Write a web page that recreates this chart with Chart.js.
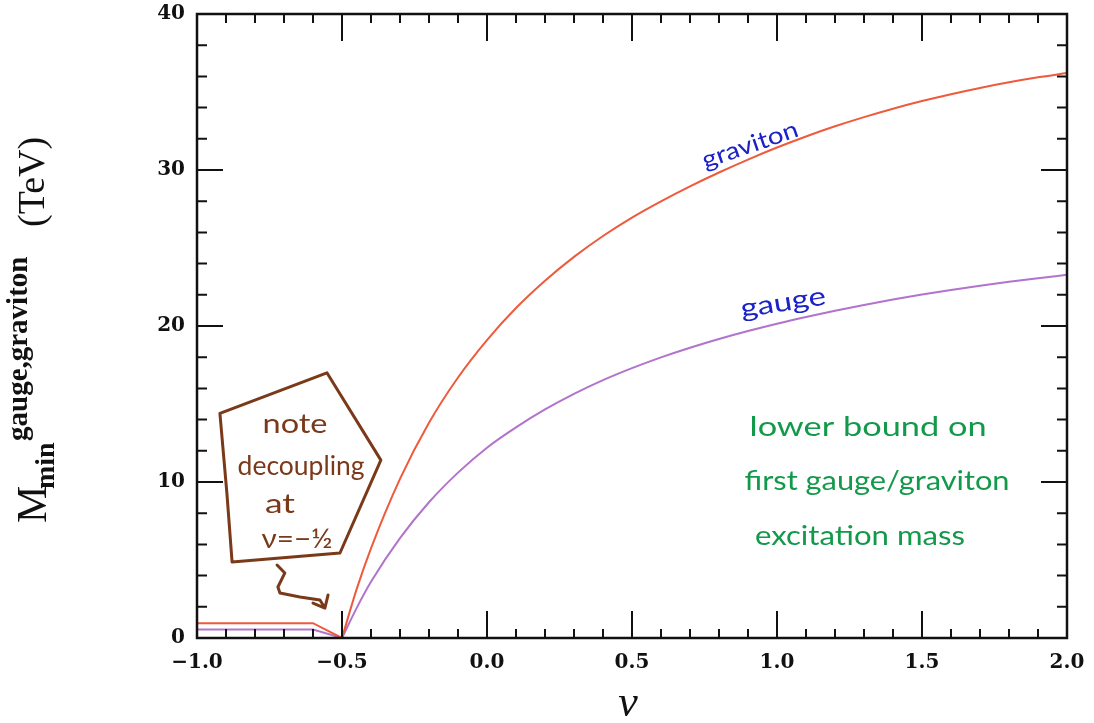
<!DOCTYPE html>
<html>
<head>
<meta charset="utf-8">
<script src="https://cdn.jsdelivr.net/npm/chart.js@4/dist/chart.umd.min.js"></script>
<style>
  html, body { margin: 0; padding: 0; background: #fff; }
  canvas { display: block; }
</style>
</head>
<body>
<canvas id="massChart" width="1094" height="723"></canvas>
<script>
// nu below the decoupling point (flat, then drops to zero at -1/2)
const nuLow = [-1.0, -0.6, -0.5];
const gravitonLow = [0.95, 0.95, 0];
const gaugeLow = [0.55, 0.55, 0];

// nu above -1/2, rising branch
const nu = [-0.5, -0.45, -0.4, -0.3, -0.2, -0.1, 0.0, 0.1, 0.2, 0.3, 0.4,
  0.5, 0.6, 0.7, 0.8, 0.9, 1.0, 1.1, 1.2, 1.3, 1.4, 1.5, 1.6, 1.7, 1.8, 1.9, 2.0];
const graviton = [0, 3.1, 5.75, 10.2, 13.8, 16.7, 19.1, 21.15, 22.9, 24.43, 25.77,
  26.95, 27.99, 28.95, 29.84, 30.67, 31.44, 32.15, 32.8, 33.39, 33.93, 34.42, 34.86, 35.26, 35.62, 35.94, 36.22];
const gauge = [0, 1.9, 3.6, 6.4, 8.7, 10.6, 12.2, 13.5, 14.65, 15.65, 16.53,
  17.3, 17.99, 18.61, 19.17, 19.68, 20.15, 20.58, 20.98, 21.35, 21.7, 22.02, 22.31, 22.58, 22.83, 23.06, 23.28];

const xTicks = [-1.0, -0.5, 0.0, 0.5, 1.0, 1.5, 2.0];
const yTicks = [0, 10, 20, 30, 40];

const RED = '#ee5a3c';
const PURPLE = '#b273cc';
const BROWN = '#7a3a1a';
const BLUE = '#1a22c8';
const GREEN = '#13994a';

function pts(xs, ys) {
  return xs.map((x, i) => ({ x: x, y: ys[i] }));
}

function fmt(v) {
  return (v < 0 ? '\u2212' : '') + Math.abs(v).toFixed(1);
}

// inward ticks on all four sides plus the box
const framePlugin = {
  id: 'frame',
  afterDatasetsDraw(chart) {
    const { ctx, chartArea: a, scales: { x, y } } = chart;
    ctx.save();
    ctx.strokeStyle = '#111';
    ctx.lineWidth = 2;
    ctx.beginPath();
    for (let i = 0; i <= 30; i++) {
      const px = x.getPixelForValue(-1 + i * 0.1);
      const len = i % 5 === 0 ? 27 : 9;
      ctx.moveTo(px, a.bottom); ctx.lineTo(px, a.bottom - len);
      ctx.moveTo(px, a.top); ctx.lineTo(px, a.top + len);
    }
    for (let v = 0; v <= 40; v += 2) {
      const py = y.getPixelForValue(v);
      const len = v % 10 === 0 ? 26 : 10;
      ctx.moveTo(a.left, py); ctx.lineTo(a.left + len, py);
      ctx.moveTo(a.right, py); ctx.lineTo(a.right - len, py);
    }
    ctx.stroke();
    ctx.lineWidth = 2.5;
    ctx.strokeRect(a.left, a.top, a.right - a.left, a.bottom - a.top);
    ctx.restore();
  }
};

// axis titles with sub/superscripts
const titlePlugin = {
  id: 'titles',
  afterDraw(chart) {
    const ctx = chart.ctx;
    ctx.save();
    ctx.fillStyle = '#111';
    ctx.textBaseline = 'alphabetic';
    ctx.textAlign = 'left';
    ctx.translate(46, 523);
    ctx.rotate(-Math.PI / 2);
    ctx.font = '42px "Liberation Serif"';
    ctx.fillText('M', 0, 0);
    ctx.font = 'bold 28px "Liberation Serif"';
    ctx.fillText('min', 34, 8);
    ctx.font = 'bold 29px "Liberation Serif"';
    ctx.fillText('gauge,graviton', 82, -19);
    ctx.font = '38px "Liberation Serif"';
    ctx.fillText('(TeV)', 296, -2);
    ctx.restore();

    ctx.save();
    ctx.fillStyle = '#111';
    ctx.font = 'italic 44px "Liberation Serif"';
    ctx.textAlign = 'center';
    ctx.textBaseline = 'alphabetic';
    ctx.fillText('\u03bd', 628, 716);
    ctx.restore();
  }
};

// text squeezed/stretched to a given width, optionally rotated
function handText(ctx, text, cx, cy, width, angle, color, size) {
  ctx.save();
  ctx.font = size + 'px Lato';
  ctx.fillStyle = color;
  ctx.textAlign = 'center';
  ctx.textBaseline = 'middle';
  const w = ctx.measureText(text).width;
  ctx.translate(cx, cy);
  ctx.rotate(angle * Math.PI / 180);
  ctx.scale(width / w, 1);
  ctx.fillText(text, 0, 0);
  ctx.restore();
}

const notePlugin = {
  id: 'notes',
  afterDatasetsDraw(chart) {
    const { ctx, scales: { x, y } } = chart;
    const P = (a, b) => [x.getPixelForValue(a), y.getPixelForValue(b)];

    // curve names
    let p = P(0.907, 31.6);
    handText(ctx, 'graviton', p[0], p[1], 100, -19, BLUE, 24);
    p = P(1.021, 21.5);
    handText(ctx, 'gauge', p[0], p[1], 86, -9, BLUE, 26);

    // side remark
    p = P(1.314, 13.46);
    handText(ctx, 'lower bound on', p[0], p[1], 237, 0, GREEN, 26);
    p = P(1.345, 10.0);
    handText(ctx, 'first gauge/graviton', p[0], p[1], 265, 0, GREEN, 26);
    p = P(1.286, 6.47);
    handText(ctx, 'excitation mass', p[0], p[1], 210, 0, GREEN, 26);

    // boxed note with arrow
    ctx.save();
    ctx.strokeStyle = BROWN;
    ctx.lineWidth = 3;
    ctx.lineJoin = 'round';
    ctx.lineCap = 'round';
    const box = [[-0.921, 14.4], [-0.552, 17.0], [-0.366, 11.4], [-0.507, 5.45], [-0.879, 4.87], [-0.897, 9.3]];
    ctx.beginPath();
    box.forEach((b, i) => {
      const q = P(b[0], b[1]);
      if (i === 0) ctx.moveTo(q[0], q[1]); else ctx.lineTo(q[0], q[1]);
    });
    ctx.closePath();
    ctx.stroke();

    const squiggle = [[-0.724, 4.68], [-0.697, 4.17], [-0.721, 3.27], [-0.714, 2.88], [-0.645, 2.63], [-0.576, 2.44], [-0.559, 1.92]];
    ctx.beginPath();
    let q = P(squiggle[0][0], squiggle[0][1]);
    ctx.moveTo(q[0], q[1]);
    for (let i = 1; i < squiggle.length; i++) {
      q = P(squiggle[i][0], squiggle[i][1]);
      ctx.lineTo(q[0], q[1]);
    }
    const tip = P(-0.559, 1.92);
    const arm1 = P(-0.548, 2.76);
    const arm2 = P(-0.6, 2.24);
    ctx.moveTo(arm1[0], arm1[1]); ctx.lineTo(tip[0], tip[1]); ctx.lineTo(arm2[0], arm2[1]);
    ctx.stroke();
    ctx.restore();

    p = P(-0.662, 13.65);
    handText(ctx, 'note', p[0], p[1], 65, 0, BROWN, 26);
    p = P(-0.641, 10.96);
    handText(ctx, 'decoupling', p[0], p[1], 127, 0, BROWN, 26);
    p = P(-0.714, 8.53);
    handText(ctx, 'at', p[0], p[1], 30, 0, BROWN, 26);
    p = P(-0.655, 6.28);
    handText(ctx, '\u03bd=\u2212\u00bd', p[0], p[1], 71, 0, BROWN, 26);
  }
};

const lineStyle = { borderWidth: 2, pointRadius: 0, fill: false, tension: 0 };

new Chart(document.getElementById('massChart'), {
  type: 'line',
  data: {
    datasets: [
      Object.assign({ label: 'graviton', data: pts(nu, graviton), borderColor: RED }, lineStyle, { cubicInterpolationMode: 'monotone' }),
      Object.assign({ label: 'gauge', data: pts(nu, gauge), borderColor: PURPLE }, lineStyle, { cubicInterpolationMode: 'monotone' }),
      Object.assign({ label: 'graviton low', data: pts(nuLow, gravitonLow), borderColor: RED }, lineStyle),
      Object.assign({ label: 'gauge low', data: pts(nuLow, gaugeLow), borderColor: PURPLE }, lineStyle)
    ]
  },
  options: {
    responsive: false,
    animation: false,
    devicePixelRatio: 1,
    layout: { padding: { top: 14, right: 27, left: 0, bottom: 0 } },
    plugins: { legend: { display: false }, tooltip: { enabled: false } },
    scales: {
      x: {
        type: 'linear',
        min: -1,
        max: 2,
        afterFit: s => { s.height = 85; s.paddingLeft = 0; s.paddingRight = 0; },
        afterBuildTicks: s => { s.ticks = xTicks.map(v => ({ value: v })); },
        grid: { display: false, drawTicks: false },
        border: { display: false },
        ticks: {
          callback: v => fmt(v),
          autoSkip: false,
          maxRotation: 0,
          padding: 13,
          color: '#111',
          font: { family: '"DejaVu Serif"', size: 20, weight: 'bold' }
        }
      },
      y: {
        min: 0,
        max: 40,
        afterFit: s => { s.width = 197; s.paddingTop = 0; s.paddingBottom = 0; },
        afterBuildTicks: s => { s.ticks = yTicks.map(v => ({ value: v })); },
        grid: { display: false, drawTicks: false },
        border: { display: false },
        ticks: {
          padding: 12,
          color: '#111',
          font: { family: '"DejaVu Serif"', size: 20, weight: 'bold' }
        }
      }
    }
  },
  plugins: [framePlugin, titlePlugin, notePlugin]
});
</script>
</body>
</html>
